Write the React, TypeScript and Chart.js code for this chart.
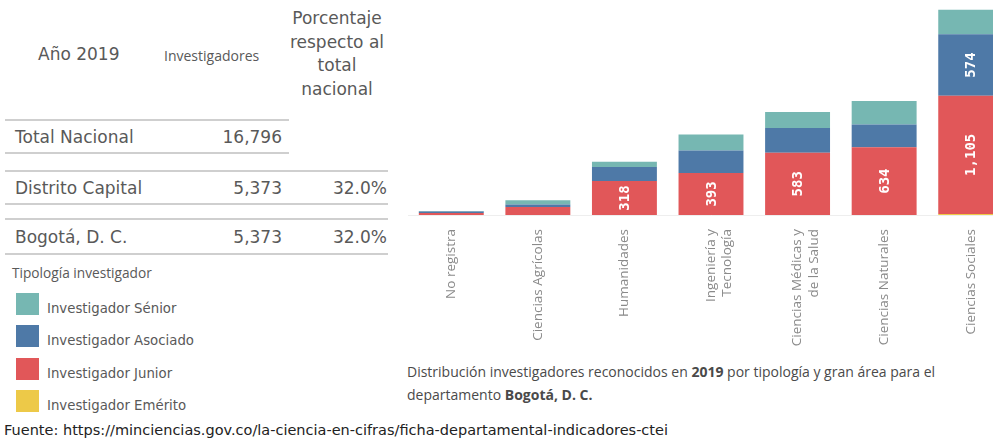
import React, { useEffect, useRef } from "react";
import { Chart, registerables } from "chart.js";

Chart.register(...registerables);

// ---------- Data ----------
const categories: (string | string[])[] = [
  "No registra",
  "Ciencias Agrícolas",
  "Humanidades",
  ["Ingeniería y", "Tecnología"],
  ["Ciencias Médicas y", "de la Salud"],
  "Ciencias Naturales",
  "Ciencias Sociales",
];
const emerito = [0, 0, 0, 0, 0, 0, 10];
const junior = [18, 75, 318, 393, 583, 634, 1105];
const asociado = [14, 22, 130, 210, 230, 212, 574];
const senior = [5, 40, 50, 150, 150, 220, 230];

const seriesNames = [
  "Investigador Emérito",
  "Investigador Junior",
  "Investigador Asociado",
  "Investigador Sénior",
];
const seriesColors = ["#edc948", "#e15759", "#4e79a7", "#76b7b2"];

const legendLabels = [
  "Investigador Sénior",
  "Investigador Asociado",
  "Investigador Junior",
  "Investigador Emérito",
];
const legendColors = ["#76b7b2", "#4e79a7", "#e15759", "#edc948"];

const rowLabels = ["Total Nacional", "Distrito Capital", "Bogotá, D. C."];
const rowInvestigadores = ["16,796", "5,373", "5,373"];
const rowPorcentaje = ["", "32.0%", "32.0%"];

const Y_MAX = 2010;

// ---------- Value labels plugin ----------
const valueLabels = {
  id: "valueLabels",
  afterDatasetsDraw(chart: any) {
    const ctx = chart.ctx as CanvasRenderingContext2D;
    ctx.save();
    ctx.font = "bold 14px 'DejaVu Sans Mono', monospace";
    ctx.fillStyle = "#ffffff";
    ctx.textAlign = "center";
    ctx.textBaseline = "middle";
    chart.data.datasets.forEach((ds: any, di: number) => {
      const meta = chart.getDatasetMeta(di);
      meta.data.forEach((el: any, i: number) => {
        const v = ds.data[i] as number;
        if (!v) return;
        const p = el.getProps(["x", "y", "base"], true);
        const h = Math.abs(p.base - p.y);
        const txt = v.toLocaleString("en-US");
        const w = ctx.measureText(txt).width;
        if (h < w + 6) return;
        ctx.save();
        ctx.translate(p.x, (p.y + p.base) / 2);
        ctx.rotate(-Math.PI / 2);
        ctx.fillText(txt, 0, 1);
        ctx.restore();
      });
    });
    ctx.restore();
  },
};

const BarChart: React.FC = () => {
  const ref = useRef<HTMLCanvasElement | null>(null);
  useEffect(() => {
    if (!ref.current) return;
    const data = [emerito, junior, asociado, senior];
    const chart = new Chart(ref.current, {
      type: "bar",
      data: {
        labels: categories,
        datasets: data.map((d, i) => ({
          label: seriesNames[i],
          data: d,
          backgroundColor: seriesColors[i],
          borderWidth: 0,
          categoryPercentage: 1,
          barPercentage: 0.75,
        })),
      },
      options: {
        animation: false,
        responsive: false,
        layout: { padding: { left: 8, right: 0, top: 0, bottom: 0 } },
        plugins: {
          legend: { display: false },
          tooltip: { enabled: false },
        },
        scales: {
          x: {
            stacked: true,
            grid: { display: false },
            border: { display: true, color: "#eeeeee" },
            ticks: {
              maxRotation: 90,
              minRotation: 90,
              padding: 6,
              autoSkip: false,
              color: "#8a8a8a",
              font: { family: "'Open Sans', sans-serif", size: 13.5 },
            },
            afterFit: (s: any) => {
              s.height = 135;
            },
          },
          y: {
            stacked: true,
            display: false,
            min: 0,
            max: Y_MAX,
          },
        },
      },
      plugins: [valueLabels],
    });
    return () => chart.destroy();
  }, []);
  return (
    <canvas
      ref={ref}
      width={614}
      height={350}
      style={{ position: "absolute", left: 400, top: 0, width: 614, height: 350, display: "block" }}
    />
  );
};

const T: React.FC<{ x: number; y: number; w?: number; align?: "left" | "right" | "center"; style?: React.CSSProperties; children: React.ReactNode }> = ({ x, y, w, align = "left", style, children }) => (
  <div
    style={{
      position: "absolute",
      left: x,
      top: y,
      width: w,
      textAlign: align,
      transform: "translateY(-50%)",
      whiteSpace: "nowrap",
      lineHeight: 1.2,
      ...style,
    }}
  >
    {children}
  </div>
);

const HLine: React.FC<{ x1: number; x2: number; y: number }> = ({ x1, x2, y }) => (
  <div style={{ position: "absolute", left: x1, top: y, width: x2 - x1, height: 1.5, background: "#cfcfcf" }} />
);

const App: React.FC = () => {
  const tahoma: React.CSSProperties = { fontFamily: "'DejaVu Sans', sans-serif", color: "#595959" };
  const thin: React.CSSProperties = { fontFamily: "'Open Sans', sans-serif", color: "#595959" };
  const rowY = [137, 188, 237];
  const lines = [
    { x1: 5, x2: 289, y: 119 },
    { x1: 5, x2: 289, y: 152 },
    { x1: 5, x2: 388, y: 170 },
    { x1: 5, x2: 388, y: 203 },
    { x1: 5, x2: 388, y: 218 },
    { x1: 5, x2: 388, y: 253 },
  ];
  const pctHeader = ["Porcentaje", "respecto al", "total", "nacional"];
  const pctY = [18, 42, 65, 89];
  const legendY = [304, 336, 369, 401];
  return (
    <div
      style={{
        position: "absolute",
        left: 0,
        top: 0,
        width: 993,
        height: 442,
        overflow: "hidden",
        background: "#ffffff",
      }}
    >
      <BarChart />

      {/* Table header */}
      <T x={38} y={54} style={{ ...tahoma, fontSize: 17 }}>Año 2019</T>
      <T x={164} y={56} style={{ ...thin, fontSize: 14 }}>Investigadores</T>
      {pctHeader.map((t, i) => (
        <T key={t} x={282} w={110} y={pctY[i]} align="center" style={{ ...tahoma, fontSize: 17 }}>
          {t}
        </T>
      ))}

      {lines.map((l, i) => (
        <HLine key={i} {...l} />
      ))}

      {rowLabels.map((r, i) => (
        <React.Fragment key={r}>
          <T x={15} y={rowY[i]} style={{ ...tahoma, fontSize: 17 }}>{r}</T>
          <T x={180} w={102} y={rowY[i]} align="right" style={{ ...tahoma, fontSize: 17 }}>{rowInvestigadores[i]}</T>
          {rowPorcentaje[i] && (
            <T x={290} w={97} y={rowY[i]} align="right" style={{ ...tahoma, fontSize: 17 }}>{rowPorcentaje[i]}</T>
          )}
        </React.Fragment>
      ))}

      {/* Legend */}
      <T x={12} y={273} style={{ ...thin, fontSize: 13.7 }}>Tipología investigador</T>
      {legendLabels.map((l, i) => (
        <React.Fragment key={l}>
          <div
            style={{
              position: "absolute",
              left: 16,
              top: legendY[i] - 11,
              width: 23,
              height: 22,
              background: legendColors[i],
            }}
          />
          <T x={47} y={legendY[i] + 5} style={{ ...tahoma, fontSize: 13.3 }}>{l}</T>
        </React.Fragment>
      ))}

      {/* Caption */}
      <T x={407} y={372} style={{ ...thin, fontSize: 14, color: "#4a4a4a" }}>
        Distribución investigadores reconocidos en <b>2019</b> por tipología y gran área para el
      </T>
      <T x={407} y={395} style={{ ...thin, fontSize: 14, color: "#4a4a4a" }}>
        departamento <b>Bogotá, D. C.</b>
      </T>

      {/* Source */}
      <T x={4} y={431} style={{ fontFamily: "'DejaVu Sans', sans-serif", fontSize: 14.5, color: "#222" }}>
        Fuente: https://minciencias.gov.co/la-ciencia-en-cifras/ficha-departamental-indicadores-ctei
      </T>
    </div>
  );
};

export default App;
